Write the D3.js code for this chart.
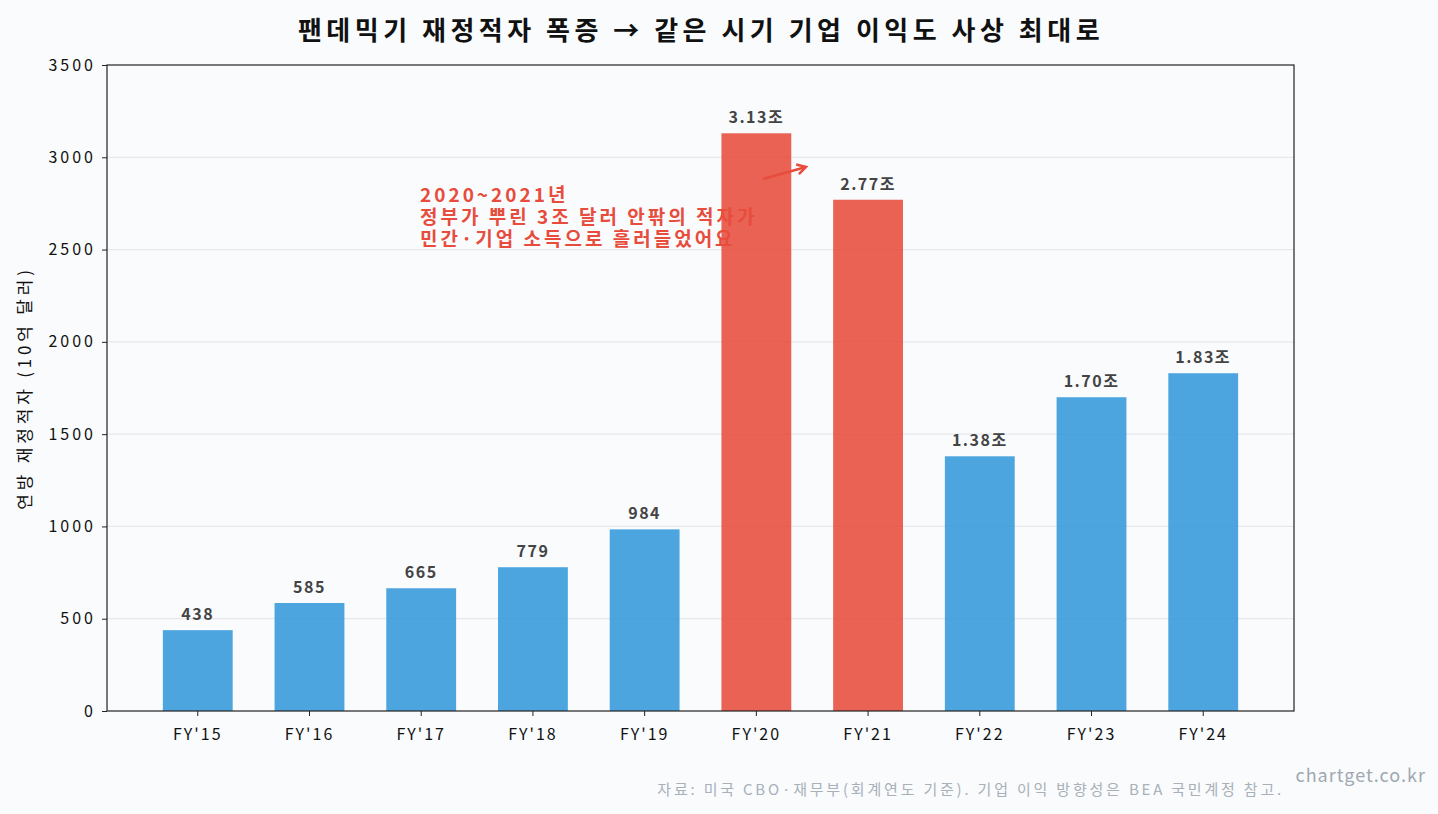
<!DOCTYPE html>
<html>
<head>
<meta charset="utf-8">
<script src="https://cdn.jsdelivr.net/npm/d3@7"></script>
<style>
  body { margin: 0; background: #f9fbfd; }
  text { font-family: "Noto Sans CJK KR", "Noto Sans", sans-serif; }
</style>
</head>
<body>
<div id="parentDiv"></div>
<script>
// data
const years = ["FY'15", "FY'16", "FY'17", "FY'18", "FY'19", "FY'20", "FY'21", "FY'22", "FY'23", "FY'24"];
const deficits = [438, 585, 665, 779, 984, 3130, 2770, 1380, 1700, 1830];
const pandemicYears = ["FY'20", "FY'21"];
const yTicks = [0, 500, 1000, 1500, 2000, 2500, 3000, 3500];

const width = 1438, height = 814;
const margin = {top: 65, right: 144, bottom: 103, left: 107};

const blue = "#3498db";
const red = "#e74c3c";

const svg = d3.select('#parentDiv').append('svg')
  .attr('width', width)
  .attr('height', height);

svg.append('rect').attr('width', width).attr('height', height).attr('fill', '#f9fbfd');

const x = d3.scaleBand()
  .domain(years)
  .range([margin.left, width - margin.right])
  .paddingInner(0.375)
  .paddingOuter(0.5);

const y = d3.scaleLinear()
  .domain([0, 3500])
  .range([height - margin.bottom, margin.top]);

// grid
svg.append('g')
  .selectAll('line')
  .data(yTicks.slice(1, -1))
  .enter().append('line')
  .attr('x1', margin.left)
  .attr('x2', width - margin.right)
  .attr('y1', d => y(d))
  .attr('y2', d => y(d))
  .attr('stroke', '#e6e8eb')
  .attr('stroke-width', 1.2);

// annotation (drawn under the bars)
const note = svg.append('text')
  .attr('fill', red)
  .attr('font-size', '19px')
  .attr('font-weight', 'bold')
  .attr('letter-spacing', '3px');
["2020~2021년", "정부가 뿌린 3조 달러 안팎의 적자가", "민간·기업 소득으로 흘러들었어요"].forEach((t, i) => {
  note.append('tspan')
    .attr('x', 420)
    .attr('y', 202 + i * 22)
    .text(t);
});

// bars
svg.append('g')
  .selectAll('rect')
  .data(years)
  .enter().append('rect')
  .attr('x', d => x(d))
  .attr('y', (d, i) => y(deficits[i]))
  .attr('width', x.bandwidth())
  .attr('height', (d, i) => y(0) - y(deficits[i]))
  .attr('fill', d => pandemicYears.includes(d) ? red : blue)
  .attr('fill-opacity', 0.88);

// value labels
svg.append('g')
  .selectAll('text')
  .data(years)
  .enter().append('text')
  .attr('x', d => x(d) + x.bandwidth() / 2)
  .attr('y', (d, i) => y(deficits[i]) - 10)
  .attr('text-anchor', 'middle')
  .attr('font-size', '16px')
  .attr('font-weight', 'bold')
  .attr('letter-spacing', '1.5px')
  .attr('fill', '#444')
  .text((d, i) => deficits[i] >= 1000 ? (deficits[i] / 1000).toFixed(2) + '조' : deficits[i]);

// arrow
const defs = svg.append('defs');
defs.append('marker')
  .attr('id', 'arrowhead')
  .attr('viewBox', '0 0 10 10')
  .attr('refX', 8).attr('refY', 5)
  .attr('markerWidth', 5).attr('markerHeight', 5)
  .attr('orient', 'auto')
  .append('path')
  .attr('d', 'M1,1 L8,5 L1,9')
  .attr('fill', 'none')
  .attr('stroke', red)
  .attr('stroke-width', 2);

svg.append('line')
  .attr('x1', 763).attr('y1', 179)
  .attr('x2', 806).attr('y2', 167)
  .attr('stroke', red)
  .attr('stroke-width', 2.5)
  .attr('marker-end', 'url(#arrowhead)');

// axes
const xAxis = svg.append('g')
  .attr('transform', `translate(0, ${height - margin.bottom})`)
  .call(d3.axisBottom(x).tickSizeOuter(0).tickSize(5).tickPadding(13));
const yAxis = svg.append('g')
  .attr('transform', `translate(${margin.left}, 0)`)
  .call(d3.axisLeft(y).tickValues(yTicks).tickFormat(d3.format('d')).tickSizeOuter(0).tickSize(5).tickPadding(6));

[xAxis, yAxis].forEach(a => {
  a.selectAll('text').attr('font-size', '16px').attr('fill', '#111')
    .attr('font-family', '"Noto Sans CJK KR", sans-serif');
  a.selectAll('line').attr('stroke', '#222');
  a.select('.domain').remove();
});
xAxis.selectAll('text').attr('letter-spacing', '2px');
yAxis.selectAll('text').attr('letter-spacing', '3px');

// frame
svg.append('rect')
  .attr('x', margin.left)
  .attr('y', margin.top)
  .attr('width', width - margin.left - margin.right)
  .attr('height', height - margin.top - margin.bottom)
  .attr('fill', 'none')
  .attr('stroke', '#222')
  .attr('stroke-width', 1.2);

// title
svg.append('text')
  .attr('x', 701)
  .attr('y', 40)
  .attr('text-anchor', 'middle')
  .attr('font-size', '26px')
  .attr('font-weight', 'bold')
  .attr('letter-spacing', '4.5px')
  .attr('fill', '#111')
  .text('팬데믹기 재정적자 폭증 → 같은 시기 기업 이익도 사상 최대로');

// y label
svg.append('text')
  .attr('transform', `translate(31, ${(margin.top + height - margin.bottom) / 2}) rotate(-90)`)
  .attr('text-anchor', 'middle')
  .attr('font-size', '17px')
  .attr('letter-spacing', '3.8px')
  .attr('fill', '#111')
  .text('연방 재정적자 (10억 달러)');

// footer
svg.append('text')
  .attr('x', 1284)
  .attr('y', 795)
  .attr('text-anchor', 'end')
  .attr('font-size', '15px')
  .attr('letter-spacing', '2.8px')
  .attr('fill', '#a8b0b8')
  .text('자료: 미국 CBO·재무부(회계연도 기준). 기업 이익 방향성은 BEA 국민계정 참고.');

svg.append('text')
  .attr('x', 1426)
  .attr('y', 782)
  .attr('text-anchor', 'end')
  .attr('font-size', '18px')
  .attr('letter-spacing', '1px')
  .attr('fill', '#a0a8b0')
  .text('chartget.co.kr');
</script>
</body>
</html>
